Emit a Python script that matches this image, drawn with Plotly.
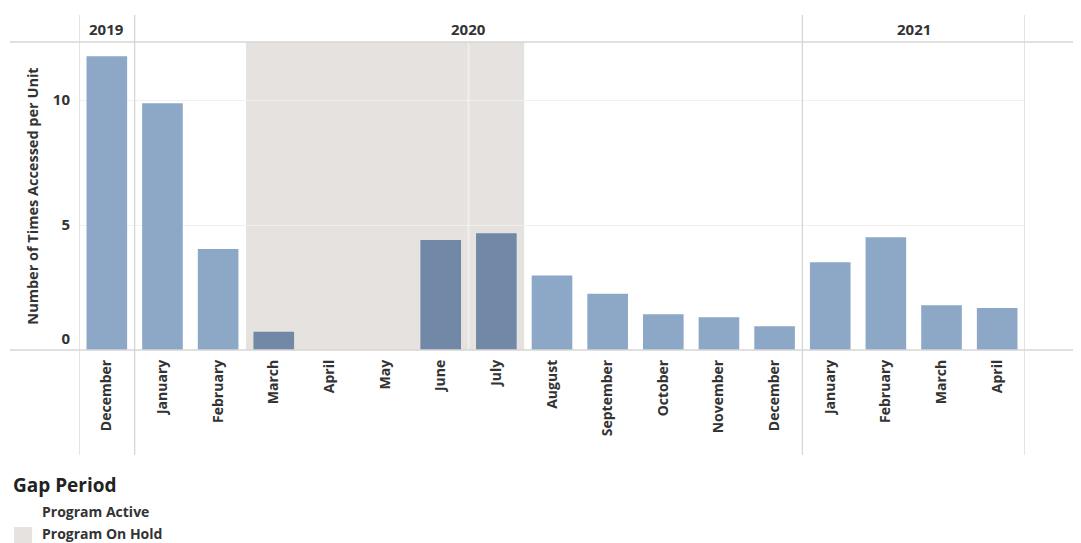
import plotly.graph_objects as go

# ---- data ----
months = ["December", "January", "February", "March", "April", "May", "June", "July",
          "August", "September", "October", "November", "December",
          "January", "February", "March", "April"]
years = ["2019", "2020", "2020", "2020", "2020", "2020", "2020", "2020",
         "2020", "2020", "2020", "2020", "2020",
         "2021", "2021", "2021", "2021"]
values = [11.75, 9.87, 4.04, 0.73, 0.0, 0.0, 4.40, 4.67,
          2.98, 2.25, 1.43, 1.31, 0.95,
          3.51, 4.51, 1.79, 1.68]
status = ["Active", "Active", "Active", "On Hold", "On Hold", "On Hold", "On Hold", "On Hold",
          "Active", "Active", "Active", "Active", "Active",
          "Active", "Active", "Active", "Active"]
y_ticks = [0, 5, 10]
y_max = 12.32

# ---- styles ----
FONT = "Open Sans"
TXT = "#333333"
LIGHT = "#8ca8c6"
DARK = "#7189a7"
HOLD_BG = "#e5e2df"
LINE = "#d6d6d6"

x = list(range(len(months)))
colors = [DARK if s == "On Hold" else LIGHT for s in status]

fig = go.Figure()
fig.add_trace(go.Bar(x=x, y=values, marker=dict(color=colors, line=dict(width=0)),
                     width=0.73, showlegend=False, hoverinfo="x+y"))
# invisible companion trace so the overlaid axis (zero label) is drawn
fig.add_trace(go.Scatter(x=x, y=values, yaxis="y2", mode="none", showlegend=False,
                         hoverinfo="skip"))

shapes = []
# on-hold shading from status
hold_idx = [i for i, s in enumerate(status) if s == "On Hold"]
if hold_idx:
    shapes.append(dict(type="rect", xref="x", yref="paper", x0=min(hold_idx) - 0.5,
                       x1=max(hold_idx) + 0.5, y0=0, y1=1, fillcolor=HOLD_BG,
                       line=dict(width=0), layer="below"))
    shapes.append(dict(type="line", xref="x", yref="paper", x0=max(hold_idx) - 0.5,
                       x1=max(hold_idx) - 0.5, y0=0, y1=1,
                       line=dict(color="#f1efed", width=2), layer="below"))

# year separators
seps = [-0.5]
for i in range(1, len(years)):
    if years[i] != years[i - 1]:
        seps.append(i - 0.5)
seps.append(len(years) - 0.5)
for s in seps:
    shapes.append(dict(type="line", xref="x", yref="paper", x0=s, x1=s, y0=-0.341, y1=1.088,
                       line=dict(color=LINE, width=1.3), layer="above"))

# header line and baseline
for yy in (0, 1):
    shapes.append(dict(type="line", xref="paper", yref="paper", x0=-0.073, x1=1.06,
                       y0=yy, y1=yy, line=dict(color=LINE, width=1.3), layer="above"))

# legend swatch
shapes.append(dict(type="rect", xref="paper", yref="paper", x0=-0.0687, x1=-0.0497,
                   y0=-0.627, y1=-0.575, fillcolor=HOLD_BG, line=dict(width=0)))

annotations = []
# year headers
unique_years = []
for yv in years:
    if yv not in unique_years:
        unique_years.append(yv)
for yv in unique_years:
    idx = [i for i, v in enumerate(years) if v == yv]
    annotations.append(dict(x=(min(idx) + max(idx)) / 2, y=1.042, xref="x", yref="paper",
                            xanchor="center", yanchor="middle",
                            text="<b>%s</b>" % yv, showarrow=False,
                            font=dict(family=FONT, size=15, color=TXT)))

# legend text
annotations.append(dict(x=-0.0715, y=-0.438, xref="paper", yref="paper", xanchor="left",
                        yanchor="middle", text="<b>Gap Period</b>", showarrow=False,
                        font=dict(family=FONT, size=19, color="#222222")))
annotations.append(dict(x=-0.0415, y=-0.523, xref="paper", yref="paper", xanchor="left",
                        yanchor="middle", text="<b>Program Active</b>", showarrow=False,
                        font=dict(family=FONT, size=14, color=TXT)))
annotations.append(dict(x=-0.0415, y=-0.596, xref="paper", yref="paper", xanchor="left",
                        yanchor="middle", text="<b>Program On Hold</b>", showarrow=False,
                        font=dict(family=FONT, size=14, color=TXT)))

# the page has an 8px body margin, so the figure is sized to end at the window edge
fig.update_layout(
    width=1073, height=535,
    margin=dict(l=71, r=56, t=34, b=193, autoexpand=False),
    paper_bgcolor="white", plot_bgcolor="white",
    font=dict(family=FONT, color=TXT),
    shapes=shapes, annotations=annotations,
    bargap=0.27,
)
fig.update_xaxes(
    range=[-0.5, len(months) - 0.5], tickmode="array", tickvals=x,
    ticktext=["<b>%s</b>" % m for m in months], tickangle=-90,
    tickfont=dict(family=FONT, size=14, color=TXT), ticks="",
    ticklabelstandoff=6, showgrid=False, zeroline=False, showline=False,
    fixedrange=True,
)
upper_ticks = [t for t in y_ticks if t > 0]
fig.update_yaxes(
    range=[0, y_max], tickmode="array", tickvals=upper_ticks,
    ticktext=["<b>%d</b>" % t for t in upper_ticks],
    tickfont=dict(family=FONT, size=15, color=TXT), ticks="",
    showgrid=True, gridcolor="#f0f0f0", gridwidth=1, zeroline=False, showline=False,
    title=dict(text="<b>Number of Times Accessed per Unit</b>",
               font=dict(family=FONT, size=14.5, color=TXT), standoff=10),
    ticklabelstandoff=8, automargin=False, fixedrange=True,
)
# the zero label sits just above the baseline, as in the reference
zero_ticks = [t for t in y_ticks if t == 0]
fig.update_layout(yaxis2=dict(
    overlaying="y", side="left", range=[0, y_max], tickmode="array",
    tickvals=zero_ticks, ticktext=["<b>%d</b>" % t for t in zero_ticks],
    tickfont=dict(family=FONT, size=15, color=TXT), ticks="", ticklabelshift=-11,
    ticklabelstandoff=8, showgrid=False, zeroline=False, showline=False,
    automargin=False, fixedrange=True,
))

fig.write_html("out.html")
